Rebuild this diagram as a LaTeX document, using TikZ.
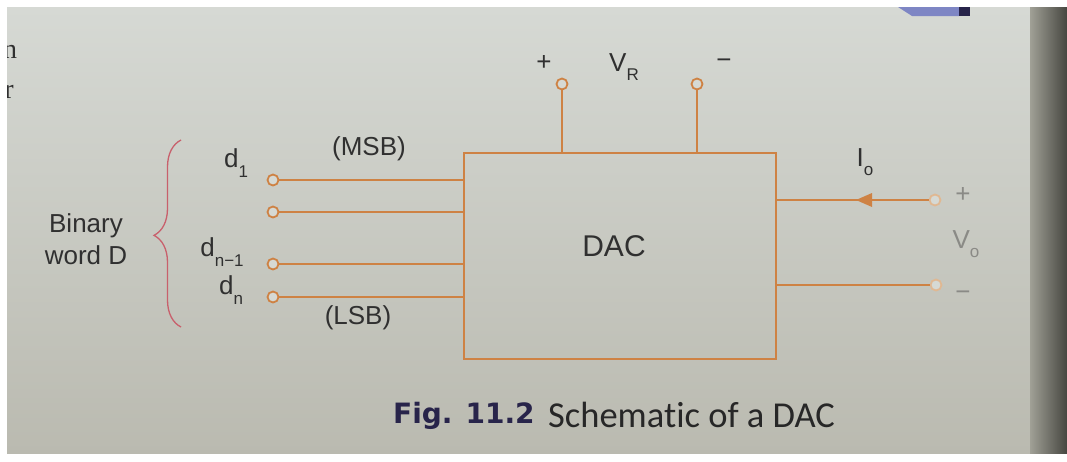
\documentclass[tikz,border=0pt]{standalone}
\usepackage{fontspec}
\setmainfont{Liberation Sans}
\newfontfamily\capbold{DejaVu Sans}
\newfontfamily\capfont[Ligatures={NoCommon}]{Carlito}
\newfontfamily\pageserif{Liberation Serif}
\usetikzlibrary{arrows.meta,decorations.pathreplacing}
\definecolor{wire}{RGB}{206,130,68}
\definecolor{wirefade}{RGB}{224,184,146}
\definecolor{bracec}{RGB}{200,96,108}
\definecolor{ink}{RGB}{48,48,48}
\definecolor{inkfade}{RGB}{138,138,134}
\definecolor{paperTop}{RGB}{214,217,212}
\definecolor{paperBot}{RGB}{186,186,176}
\definecolor{navy}{RGB}{40,36,74}
\definecolor{lightblue}{RGB}{126,134,196}
\definecolor{edgeA}{RGB}{160,160,150}
\definecolor{edgeB}{RGB}{70,70,64}
\newcommand{\lowsub}[1]{\raisebox{-0.36em}{\fontsize{17}{17}\selectfont #1}}
\begin{document}
\begin{tikzpicture}[x=1pt,y=-1pt,
  wireline/.style={draw=wire,line width=2pt},
  term/.style={circle,draw=wire,line width=1.8pt,fill=paperTop,minimum size=11pt,inner sep=0pt},
  fadeterm/.style={term,draw=wirefade},
  lbl/.style={text=ink,font=\fontsize{26}{28}\selectfont,inner sep=0pt},
  fadelbl/.style={lbl,text=inkfade},
  boxstyle/.style={draw=wire,line width=2pt,minimum width=312pt,minimum height=206pt,inner sep=0pt}
 ]
\useasboundingbox (0,0) rectangle (1067,461);
% paper
\fill[white] (0,0) rectangle (1067,461);
\shade[top color=paperTop,bottom color=paperBot] (7,7) rectangle (1030,453);
\shade[left color=edgeA,right color=edgeB] (1030,7) rectangle (1067,453);
\fill[lightblue] (898,7) -- (959,7) -- (959,16) -- (912,16) -- cycle;
\fill[navy] (959,7) rectangle (970,16);
\begin{scope}
\clip (7,7) rectangle (1030,453);
\node[text=ink,font=\pageserif\fontsize{28}{30}\selectfont,inner sep=0pt] (pgn) at (10,52) {n};
\node[text=ink,font=\pageserif\fontsize{28}{30}\selectfont,inner sep=0pt] (pgr) at (9,92) {r};
\end{scope}

% DAC box
\node[boxstyle] (dac) at (620,256) {};
\node[lbl,font=\fontsize{30}{32}\selectfont] (daclbl) at (614,246) {DAC};

% reference terminals
\node[term] (vrp) at (562,84) {};
\node[term] (vrm) at (697,84) {};
\draw[wireline] (vrp) -- (vrp |- dac.north);
\draw[wireline] (vrm) -- (vrm |- dac.north);
\node[lbl] (plusR) at (544,63) {+};
\node[lbl] (vr) at (624,67) {V\lowsub{R}};
\node[lbl] (minusR) at (724,64) {−};

% inputs
\node[term] (in1) at (273,180) {};
\node[term] (in2) at (273,212) {};
\node[term] (in3) at (273,264) {};
\node[term] (in4) at (273,297) {};
\foreach \n in {in1,in2,in3,in4}{
  \draw[wireline] (\n) -- (\n -| dac.west);
}
\node[lbl] (d1) at (236,163) {d\lowsub{1}};
\node[lbl] (dn1) at (222,252) {d\lowsub{n−1}};
\node[lbl] (dn) at (231,290) {d\lowsub{n}};
\node[lbl] (msb) at (369,149) {(MSB)};
\node[lbl] (lsb) at (358,318) {(LSB)};

% brace and word label
\coordinate (brb) at (181,327);
\coordinate (brt) at (181,140);
\draw[bracec,line width=1.3pt,decorate,decoration={brace,amplitude=27pt,aspect=0.49}] (brb) -- (brt);
\node[lbl,align=center,font=\fontsize{26}{32}\selectfont] (word) at (86,239) {Binary\\word D};

% outputs
\node[fadeterm] (op) at (935,200) {};
\node[fadeterm] (om) at (936,285) {};
\coordinate (atip) at (856,200);
\draw[wireline] (op) -- (op -| dac.east);
\fill[wire] (atip) -- ++(16,-7) -- ++(0,14) -- cycle;
\draw[wireline] (om) -- (om -| dac.east);
\node[lbl] (io) at (865,162) {I\lowsub{o}};
\node[fadelbl] (plusO) at (963,195) {+};
\node[fadelbl] (vo) at (966,244) {V\lowsub{o}};
\node[fadelbl] (minusO) at (963,296) {−};

% caption
\node[anchor=base west,inner sep=0pt,text=navy,font=\capbold\bfseries\fontsize{28}{30}\selectfont] (fig) at (393,423) {Fig. 11.2};
\node[anchor=base west,inner sep=0pt,text=ink!80!black,font=\capfont\fontsize{36.5}{38}\selectfont] (cap) at (548,427) {Schematic of a DAC};
\end{tikzpicture}
\end{document}
